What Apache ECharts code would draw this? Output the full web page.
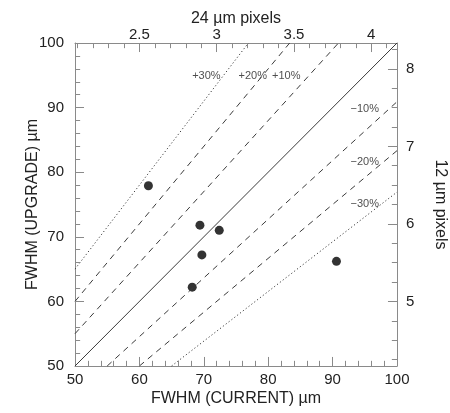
<!DOCTYPE html>
<html>
<head>
<meta charset="utf-8">
<script src="https://cdn.jsdelivr.net/npm/echarts@6/dist/echarts.min.js"></script>
<style>
  html, body { margin: 0; padding: 0; background: #fff; }
  #chart { width: 450px; height: 413px; }
</style>
</head>
<body>
<div id="chart"></div>
<script>
// measured points: FWHM current vs upgrade (µm)
const currentFwhm = [61.4, 69.4, 72.4, 69.7, 68.2, 90.6];
const upgradeFwhm = [77.9, 71.8, 71.0, 67.2, 62.2, 66.2];

// reference lines y = ratio * x
const ratios = [1.3, 1.2, 1.1, 1, 1 / 1.1, 1 / 1.2, 1 / 1.3];
const ratioStyles = ['dotted', 'dashed', 'dashed', 'solid', 'dashed', 'dashed', 'dotted'];

// percent annotations
const pctLabels = ['+30%', '+20%', '+10%', '\u221210%', '\u221220%', '\u221230%'];
const pctLabelX = [70.4, 77.6, 82.8, 95.0, 95.0, 95.0];
const pctLabelY = [94.9, 94.9, 94.9, 89.8, 81.6, 75.1];

// tick marks, µm axes
const umMajor = [60, 70, 80, 90];
const umMinor = [52, 54, 56, 58, 62, 64, 66, 68, 72, 74, 76, 78, 82, 84, 86, 88, 92, 94, 96, 98];
// tick marks, pixel axes
const topMajor = [2.5, 3, 3.5, 4];
const topMinor = [2.1, 2.2, 2.3, 2.4, 2.6, 2.7, 2.8, 2.9, 3.1, 3.2, 3.3, 3.4, 3.6, 3.7, 3.8, 3.9, 4.1];
const rightMajor = [5, 6, 7, 8];
const rightMinor = [4.25, 4.5, 4.75, 5.25, 5.5, 5.75, 6.25, 6.5, 6.75, 7.25, 7.5, 7.75, 8.25];

const axisColor = '#8a8a8a';
const textColor = '#222';
const font = 'Liberation Sans, Arial, Helvetica, sans-serif';
const lo = 50, hi = 100;
const bigTick = 1.4, smallTick = 0.8; // tick length in µm units (~9px / ~5px)

function dashFor(style) {
    if (style === 'dashed') return [6, 5];
    if (style === 'dotted') return [1.2, 2.4];
    return 'solid';
}

// end points kept inside the frame
function lineEnds(r) {
    if (r >= 1) return [[lo, lo * r], [hi / r, hi]];
    return [[lo / r, lo], [hi, hi * r]];
}

const refLines = ratios.map(function (r, i) {
    const ends = lineEnds(r);
    return [
        { coord: ends[0], lineStyle: { color: '#3a3a3a', width: 1, type: dashFor(ratioStyles[i]) } },
        { coord: ends[1] }
    ];
});

// inward ticks on all four sides, as short segments
function ticks() {
    const out = [];
    function add(a, b) { out.push([{ coord: a }, { coord: b }]); }
    umMajor.forEach(function (v) {
        add([v, lo], [v, lo + bigTick]);
        add([lo, v], [lo + bigTick, v]);
    });
    umMinor.forEach(function (v) {
        add([v, lo], [v, lo + smallTick]);
        add([lo, v], [lo + smallTick, v]);
    });
    topMajor.forEach(function (p) { add([p * 24, hi], [p * 24, hi - bigTick]); });
    topMinor.forEach(function (p) { add([p * 24, hi], [p * 24, hi - smallTick]); });
    rightMajor.forEach(function (p) { add([hi, p * 12], [hi - bigTick, p * 12]); });
    rightMinor.forEach(function (p) { add([hi, p * 12], [hi - smallTick, p * 12]); });
    return out;
}

const label = function (margin) {
    return { color: textColor, fontSize: 15, margin: margin, fontFamily: font };
};
const title = { color: textColor, fontSize: 16, fontFamily: font };
const frame = { show: true, lineStyle: { color: axisColor, width: 1 } };

const chart = echarts.init(document.getElementById('chart'));

const option = {
    animation: false,
    grid: { left: 75, top: 43, width: 322, height: 323, containLabel: false, outerBoundsMode: 'none' },
    xAxis: [
        {
            type: 'value', min: lo, max: hi, interval: 10,
            name: 'FWHM (CURRENT) \u00b5m', nameLocation: 'middle', nameGap: 25, nameMoveOverlap: false,
            nameTextStyle: title,
            axisLine: frame,
            axisTick: { show: false },
            axisLabel: label(6),
            splitLine: { show: false }
        },
        {
            type: 'value', position: 'top', min: lo / 24, max: hi / 24,
            name: '24 \u00b5m pixels', nameLocation: 'middle', nameGap: 16, nameMoveOverlap: false,
            nameTextStyle: title,
            axisLine: frame,
            axisTick: { show: false },
            axisLabel: Object.assign(label(1), { customValues: topMajor }),
            splitLine: { show: false }
        }
    ],
    yAxis: [
        {
            type: 'value', min: lo, max: hi, interval: 10,
            name: 'FWHM (UPGRADE) \u00b5m', nameLocation: 'middle', nameGap: 34, nameRotate: 90, nameMoveOverlap: false,
            nameTextStyle: title,
            axisLine: frame,
            axisTick: { show: false },
            axisLabel: label(11),
            splitLine: { show: false }
        },
        {
            type: 'value', position: 'right', min: lo / 12, max: hi / 12,
            name: '12 \u00b5m pixels', nameLocation: 'middle', nameGap: 35, nameRotate: -90, nameMoveOverlap: false,
            nameTextStyle: title,
            axisLine: frame,
            axisTick: { show: false },
            axisLabel: Object.assign(label(9), { customValues: rightMajor }),
            splitLine: { show: false }
        }
    ],
    series: [
        {
            type: 'scatter',
            xAxisIndex: 0,
            yAxisIndex: 0,
            symbol: 'circle',
            symbolSize: 9,
            itemStyle: { color: '#000' },
            data: currentFwhm.map(function (x, i) { return [x, upgradeFwhm[i]]; }),
            markLine: {
                silent: true,
                symbol: 'none',
                label: { show: false },
                emphasis: { disabled: true },
                data: refLines
            }
        },
        {
            // percent tags along the reference lines, plus the tick marks
            type: 'scatter',
            xAxisIndex: 0,
            yAxisIndex: 0,
            symbolSize: 0,
            silent: true,
            label: {
                show: true, position: 'inside', formatter: '{b}',
                color: textColor, fontSize: 11, fontFamily: font
            },
            data: pctLabels.map(function (t, i) {
                return { name: t, value: [pctLabelX[i], pctLabelY[i]] };
            }),
            markLine: {
                silent: true,
                symbol: 'none',
                label: { show: false },
                emphasis: { disabled: true },
                lineStyle: { color: axisColor, width: 1, type: 'solid' },
                data: ticks()
            }
        }
    ]
};

chart.setOption(option);
</script>
</body>
</html>
